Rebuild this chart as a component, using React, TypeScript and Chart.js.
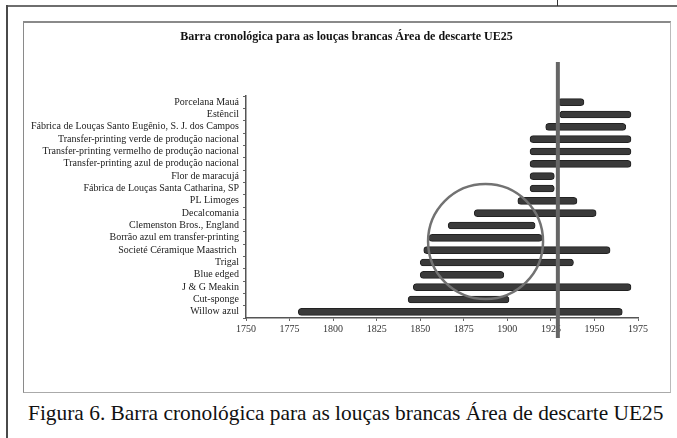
import React, { useEffect, useRef } from "react";
import { Chart, registerables } from "chart.js";

Chart.register(...registerables);

const SERIF = "'Liberation Serif', 'Times New Roman', Times, 'DejaVu Serif', serif";

const categories = [
  "Porcelana Mauá",
  "Estêncil",
  "Fábrica de Louças Santo Eugênio, S. J. dos Campos",
  "Transfer-printing verde de produção nacional",
  "Transfer-printing vermelho de produção nacional",
  "Transfer-printing azul de produção nacional",
  "Flor de maracujá",
  "Fábrica de Louças Santa Catharina, SP",
  "PL Limoges",
  "Decalcomania",
  "Clemenston Bros., England",
  "Borrão azul em transfer-printing",
  "Societé Céramique Maastrich ",
  "Trigal",
  "Blue edged",
  "J & G Meakin",
  "Cut-sponge",
  "Willow azul",
];

const startYears = [1929, 1930, 1922, 1913, 1913, 1913, 1913, 1913, 1906, 1881, 1866, 1855, 1852, 1850, 1850, 1846, 1843, 1780];
const endYears = [1944, 1971, 1968, 1971, 1971, 1971, 1927, 1927, 1940, 1951, 1916, 1920, 1959, 1938, 1898, 1971, 1901, 1966];

const xTicks = [1750, 1775, 1800, 1825, 1850, 1875, 1900, 1925, 1950, 1975];
const markerYear = 1929;
const circleCenterYear = 1887.5;
const circleCenterRow = 11.3;
const circleRadiusYears = 33;

const titleText = "Barra cronológica para as louças brancas Área de descarte UE25";
const captionText = "Figura 6. Barra cronológica para as louças brancas Área de descarte UE25";

const overlayPlugin = {
  id: "overlay",
  afterDatasetsDraw(chart: any) {
    const { ctx, chartArea, scales } = chart;
    const x = scales.x;
    const y = scales.y;
    ctx.save();
    const cx = x.getPixelForValue(circleCenterYear);
    const cy = y.getPixelForValue(circleCenterRow);
    const r = x.getPixelForValue(circleCenterYear + circleRadiusYears) - cx;
    ctx.beginPath();
    ctx.arc(cx, cy, r, 0, Math.PI * 2);
    ctx.strokeStyle = "#727272";
    ctx.lineWidth = 2.5;
    ctx.stroke();
    const mx = x.getPixelForValue(markerYear);
    ctx.beginPath();
    ctx.moveTo(mx, chartArea.top - 34);
    ctx.lineTo(mx, chartArea.bottom + 20);
    ctx.strokeStyle = "#666666";
    ctx.lineWidth = 4;
    ctx.stroke();
    ctx.restore();
  },
};

function ChartBox() {
  const ref = useRef<HTMLCanvasElement | null>(null);
  useEffect(() => {
    if (!ref.current) return;
    const data = categories.map((_, i) => [startYears[i], endYears[i]]);
    const chart = new Chart(ref.current, {
      type: "bar",
      data: {
        labels: categories,
        datasets: [
          {
            data: data as any,
            backgroundColor: "#3a3a3a",
            borderColor: "#222",
            borderWidth: 1,
            borderRadius: 3.5,
            borderSkipped: false,
            barThickness: 7,
          },
        ],
      },
      options: {
        indexAxis: "y",
        animation: false,
        responsive: false,
        maintainAspectRatio: false,
        layout: { padding: 0 },
        plugins: {
          legend: { display: false },
          tooltip: { enabled: false },
          title: {
            display: true,
            text: titleText,
            color: "#111",
            font: { family: SERIF, size: 12, weight: "bold", lineHeight: 1.2 },
            padding: { top: 8, bottom: 51.6 },
          },
        },
        scales: {
          x: {
            type: "linear",
            min: 1750,
            max: 1975,
            afterBuildTicks: (s: any) => {
              s.ticks = xTicks.map((v) => ({ value: v }));
            },
            afterFit: (s: any) => {
              s.height = 72;
            },
            ticks: {
              color: "#333",
              font: { family: SERIF, size: 10 },
              padding: 2,
              maxRotation: 0,
              autoSkip: false,
              callback: (v: any) => String(v),
            },
            grid: { drawOnChartArea: false, drawTicks: true, tickLength: 3, color: "#666" },
            border: { color: "#555", width: 1.5 },
          },
          y: {
            type: "category",
            afterFit: (s: any) => {
              s.width = 222;
            },
            ticks: {
              color: "#222",
              font: { family: SERIF, size: 10 },
              padding: 4,
              autoSkip: false,
            },
            grid: { drawOnChartArea: false, drawTicks: true, tickLength: 3, color: "#666", offset: true },
            border: { color: "#555", width: 1.5 },
          },
          yRight: {
            type: "category",
            position: "right",
            labels: categories,
            afterFit: (s: any) => {
              s.width = 31;
            },
            ticks: { display: false },
            grid: { display: false },
            border: { display: false },
          },
        },
      },
      plugins: [overlayPlugin],
    });
    return () => chart.destroy();
  }, []);
  return <canvas ref={ref} width={645} height={368} style={{ display: "block", width: 645, height: 368 }} />;
}

export default function App() {
  return (
    <div style={{ position: "fixed", left: 0, top: 0, width: 677, height: 438, background: "#fff", overflow: "hidden" }}>
      <div style={{ position: "absolute", left: 6, top: 5, width: 671, height: 2, background: "#6e6e6e" }} />
      <div style={{ position: "absolute", left: 6, top: 5, width: 2, height: 433, background: "#4a4a4a" }} />
      <div style={{ position: "absolute", left: 557, top: 0, width: 1, height: 6, background: "#333" }} />
      <div
        style={{
          position: "absolute",
          left: 23,
          top: 21,
          width: 646,
          height: 369,
          borderTop: "2px solid #8a8a8a",
          borderLeft: "1px solid #8a8a8a",
          borderRight: "1px solid #bbb",
          borderBottom: "1px solid #aaa",
        }}
      />
      <div style={{ position: "absolute", left: 24, top: 22 }}>
        <ChartBox />
      </div>
      <div
        style={{
          position: "absolute",
          left: 28,
          top: 400,
          fontFamily: SERIF,
          fontSize: 21.4,
          lineHeight: "27px",
          color: "#111",
          whiteSpace: "nowrap",
        }}
      >
        {captionText}
      </div>
    </div>
  );
}
